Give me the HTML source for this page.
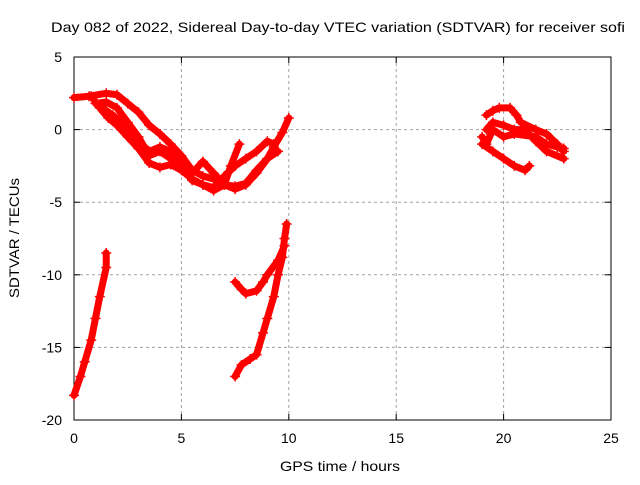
<!DOCTYPE html>
<html><head><meta charset="utf-8"><style>
body{margin:0;background:#fff}
svg text{font-family:"Liberation Sans",sans-serif;font-size:14px;fill:#000}
</style></head><body>
<svg id="chart" width="640" height="480" viewBox="0 0 640 480" xmlns="http://www.w3.org/2000/svg">
<rect width="640" height="480" fill="#fff"/>
<text x="338" y="32" text-anchor="middle" textLength="574" lengthAdjust="spacingAndGlyphs">Day 082 of 2022, Sidereal Day-to-day VTEC variation (SDTVAR) for receiver sofi</text>
<g id="grid"></g>
<g id="axes"></g>
<g id="series"></g>
<text x="340" y="471" text-anchor="middle" textLength="120" lengthAdjust="spacingAndGlyphs">GPS time / hours</text>
<text transform="translate(19,238) rotate(-90)" text-anchor="middle" textLength="120" lengthAdjust="spacingAndGlyphs">SDTVAR / TECUs</text>
</svg>
<script>
const xTicks=[0,5,10,15,20,25];
const yTicks=[5,0,-5,-10,-15,-20];
const trackA_h=[0,0.7,1.5,2,2.5,3,3.5,4,4.5,5,5.5,6,6.5,7,7.5,8,8.5,9,9.3,9.7,10];
const trackA_v=[2.2,2.3,2.5,2.4,1.8,1.2,0.3,-0.3,-1,-1.8,-2.8,-3.2,-3.4,-3.8,-3.9,-3.7,-2.8,-2,-1.2,-0.2,0.8];
const trackB_h=[0.8,1.2,1.6,2,2.5,3,3.5,4,4.5,5,5.5,6,6.5,7,7.3,7.7];
const trackB_v=[2.3,1.5,0.8,0.3,-0.5,-1.3,-2.3,-2.6,-2.4,-2.8,-3.4,-3.8,-4.2,-3.8,-2.5,-1];
const trackC_h=[1,1.5,2,2.5,3,3.5,4,4.5,5,5.5,6,6.5,7,7.5,8,8.5,9,9.5];
const trackC_v=[1.8,1.9,1.5,0.5,-0.5,-1.8,-1.5,-2,-2.5,-3,-2.2,-3,-3.8,-4.1,-3.8,-3,-2,-1.5];
const trackD_h=[1.3,1.8,2.5,3,3.5,4,4.5,5,5.5,6,6.5,7,7.5,8,8.5,9,9.3];
const trackD_v=[1.5,1,0,-0.8,-1.5,-1.2,-1.5,-2.5,-3.5,-3.8,-4,-3.2,-2.5,-2,-1.5,-0.8,-1];
const trackE_h=[0,0.3,0.5,0.8,1,1.2,1.5,1.5];
const trackE_v=[-18.3,-17,-16,-14.5,-13,-11.5,-9.5,-8.5];
const trackF_h=[7.5,7.8,8.2,8.5,8.8,9,9.3,9.5,9.7,9.8,9.9];
const trackF_v=[-17,-16.2,-15.8,-15.5,-14,-13,-11.5,-10,-8.8,-7.5,-6.5];
const trackG_h=[7.5,7.8,8,8.5,8.8,9,9.5,9.8];
const trackG_v=[-10.5,-11,-11.3,-11.1,-10.5,-10,-9,-8];
const trackH_h=[19.2,19.5,19.8,20.3,20.6,20.8,21.5,22,22.5,22.8];
const trackH_v=[1,1.3,1.5,1.5,1,0.5,0,-0.3,-1,-1.5];
const trackI_h=[19,19.5,20,20.5,21,21.2];
const trackI_v=[-1,-1.5,-2,-2.5,-2.8,-2.5];
const trackJ_h=[19.2,19.5,20,20.5,21,21.5,22,22.8];
const trackJ_v=[0,0.5,0.3,0,0,-0.8,-1.5,-2];
const trackK_h=[19,19.2,19.5,20,20.5,21.5,22,22.5,22.8];
const trackK_v=[-0.5,-1,0,-0.5,-0.3,-0.5,-1,-1.2,-1.3];
const tracks=[[trackA_h,trackA_v],[trackB_h,trackB_v],[trackC_h,trackC_v],[trackD_h,trackD_v],[trackE_h,trackE_v],[trackF_h,trackF_v],[trackG_h,trackG_v],[trackH_h,trackH_v],[trackI_h,trackI_v],[trackJ_h,trackJ_v],[trackK_h,trackK_v]];
const X0=74,X1=611,Y0=420,Y1=57;
function xs(h){return X0+(h-0)/25*(X1-X0);}
function ys(v){return Y0-(v+20)/25*(Y0-Y1);}
const NS="http://www.w3.org/2000/svg";
function mk(tag,attrs,parent){const e=document.createElementNS(NS,tag);for(const k in attrs)e.setAttribute(k,attrs[k]);parent.appendChild(e);return e;}
const grid=document.getElementById('grid'),axes=document.getElementById('axes'),series=document.getElementById('series');
xTicks.forEach(t=>{const x=xs(t);
 if(t>0&&t<25){const l=mk('line',{x1:x,y1:Y1,x2:x,y2:Y0,stroke:'#a0a0a0','stroke-dasharray':'3,3'},grid);
 
 }
 mk('line',{x1:x,y1:Y0,x2:x,y2:Y0-6,stroke:'#000'},axes);mk('line',{x1:x,y1:Y1,x2:x,y2:Y1+6,stroke:'#000'},axes);
 const tx=mk('text',{x:x,y:Y0+23,'text-anchor':'middle'},axes);tx.textContent=t;
 
 });
yTicks.forEach(t=>{const y=ys(t);
 if(t>-20&&t<5){const l=mk('line',{x1:X0,y1:y,x2:X1,y2:y,stroke:'#a0a0a0','stroke-dasharray':'3,3'},grid);
 
 }
 mk('line',{x1:X0,y1:y,x2:X0+6,y2:y,stroke:'#000'},axes);mk('line',{x1:X1,y1:y,x2:X1-6,y2:y,stroke:'#000'},axes);
 const tx=mk('text',{x:X0-12,y:y+5,'text-anchor':'end'},axes);tx.textContent=t;
 
 });
mk('rect',{x:X0,y:Y1,width:X1-X0,height:Y0-Y1,fill:'none',stroke:'#000'},axes);
tracks.forEach(([H,V])=>{
 const pts=H.map((h,i)=>xs(h)+','+ys(V[i])).join(' ');
 const p=mk('polyline',{points:pts,fill:'none',stroke:'#ff0000','stroke-width':7,'stroke-linejoin':'round','stroke-linecap':'round'},series);
 
 
 H.forEach((h,i)=>{const x=xs(h),y=ys(V[i]);
  const m=mk('path',{d:`M${x-5},${y}h10M${x},${y-5}v10`,stroke:'#ff0000','stroke-width':1.5},series);
  
  });
});
</script>
</body></html>
